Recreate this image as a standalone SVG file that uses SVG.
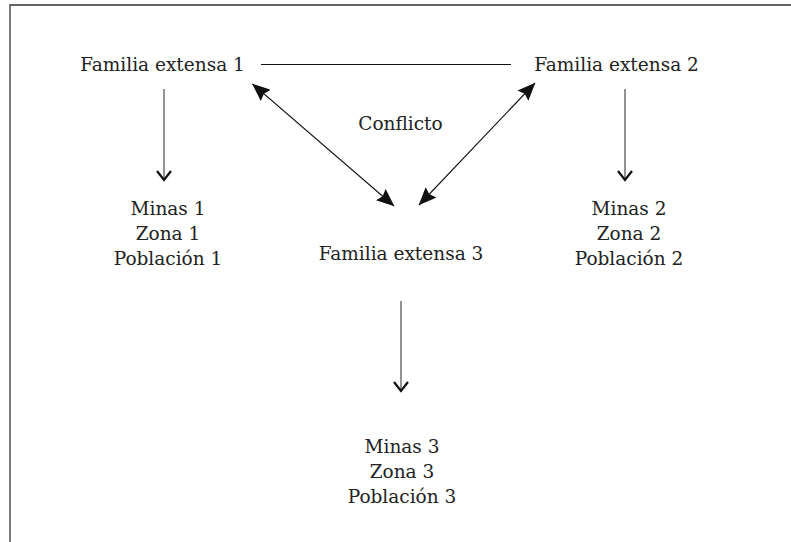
<svg xmlns="http://www.w3.org/2000/svg" width="791" height="542" viewBox="0 0 791 542">
<style>
text{font-family:"DejaVu Serif","Liberation Serif",serif;font-size:18.5px;fill:#222;text-anchor:middle}
.frame{fill:none;stroke:#333;stroke-width:1.3}
.conn{fill:none;stroke:#111;stroke-width:1.1}
.down{fill:none;stroke:#666;stroke-width:1.4}
.vhead{fill:none;stroke:#111;stroke-width:2.2}
</style>
<defs>
<marker id="tri" viewBox="0 0 18 15" refX="17.5" refY="7.5" markerWidth="18" markerHeight="15" markerUnits="userSpaceOnUse" orient="auto-start-reverse">
<path d="M0,0 L18,7.5 L0,15 L2.5,7.5 Z" fill="#111"/>
</marker>
</defs>
<path class="frame" d="M10,542 L10,5 L791,5"/>
<g id="n-fe1"><text x="162.5" y="71">Familia extensa 1</text></g>
<g id="n-fe2"><text x="616.5" y="71">Familia extensa 2</text></g>
<g id="n-conflicto"><text x="400.5" y="130">Conflicto</text></g>
<g id="n-fe3"><text x="401" y="260">Familia extensa 3</text></g>
<g id="n-m1"><text x="168" y="215">Minas 1</text><text x="168" y="240">Zona 1</text><text x="168" y="265">Población 1</text></g>
<g id="n-m2"><text x="629" y="215">Minas 2</text><text x="629" y="240">Zona 2</text><text x="629" y="265">Población 2</text></g>
<g id="n-m3"><text x="402" y="453">Minas 3</text><text x="402" y="478">Zona 3</text><text x="402" y="503">Población 3</text></g>
<g id="connectors">
<line class="conn" x1="261" y1="64.5" x2="511" y2="64.5"/>
<line class="conn" x1="252.5" y1="84" x2="394" y2="206" marker-start="url(#tri)" marker-end="url(#tri)"/>
<line class="conn" x1="535" y1="83" x2="419" y2="205" marker-start="url(#tri)" marker-end="url(#tri)"/>
<line class="down" x1="164" y1="89" x2="164" y2="180"/>
<path class="vhead" d="M157,171 L164,180 L171,171"/>
<line class="down" x1="625" y1="89" x2="625" y2="180"/>
<path class="vhead" d="M618,171 L625,180 L632,171"/>
<line class="down" x1="401" y1="301" x2="401" y2="391"/>
<path class="vhead" d="M394,382 L401,391 L408,382"/>
</g>
</svg>
